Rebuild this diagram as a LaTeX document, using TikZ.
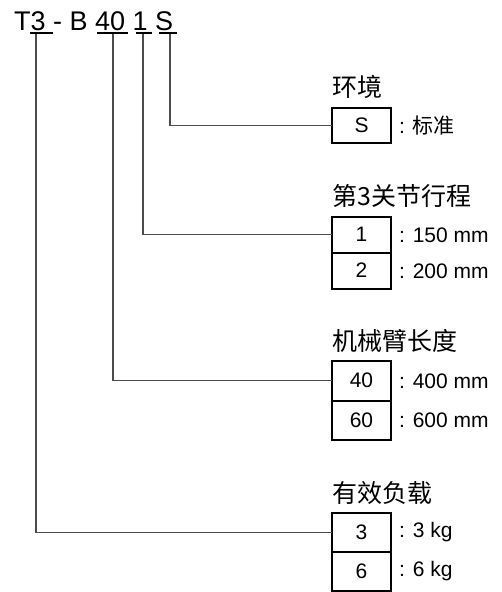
\documentclass[tikz,border=0pt]{standalone}
\usepackage{fontspec}
\setmainfont{Liberation Sans}
\newfontfamily\cjk{Noto Sans CJK SC}
\begin{document}
\begin{tikzpicture}[x=1pt,y=-1pt,
  optbox/.style={draw=black,line width=2pt,minimum width=59pt,inner sep=0pt,outer sep=0pt,anchor=north west,font=\fontsize{21}{21}\selectfont},
  grp/.style={anchor=west,inner sep=0pt,font=\cjk\fontsize{25}{25}\selectfont},
  val/.style={anchor=west,inner sep=0pt,font=\fontsize{21}{21}\selectfont},
  lead/.style={draw=black!70,line width=1.2pt},
  uline/.style={line width=2pt}]
\useasboundingbox (0,0) rectangle (502,592);
% title
\node[anchor=base west,inner sep=0pt,font=\fontsize{27}{27}\selectfont] (title) at (14,30) {T3 - B 40 1 S};
\draw[uline] (30,33) -- (53,33);
\draw[uline] (97,33) -- (128,33);
\draw[uline] (136,33) -- (152,33);
\draw[uline] (159,33) -- (177,33);
\coordinate (u3) at (36,34);
\coordinate (u40) at (113,34);
\coordinate (u1) at (143,34);
\coordinate (uS) at (170,34);
% environment
\node[grp] (genv) at (332,86.5) {环境};
\node[optbox,minimum height=35pt] (bS) at (332,108) {S};
\node[val] (vS) at (399,125.5) {: {\cjk 标准}};
% stroke
\node[grp] (gstroke) at (332,196) {第3关节行程};
\node[optbox,minimum height=36pt] (b1) at (332,216.5) {1};
\node[optbox,minimum height=36pt] (b2) at (332,252.5) {2};
\node[val] (v1) at (399,235) {: 150 mm};
\node[val] (v2) at (399,271) {: 200 mm};
% arm length
\node[grp] (garm) at (332,341) {机械臂长度};
\node[optbox,minimum height=39.5pt] (b40) at (332,361) {40};
\node[optbox,minimum height=39.5pt] (b60) at (332,400.5) {60};
\node[val] (v40) at (399,381) {: 400 mm};
\node[val] (v60) at (399,420.5) {: 600 mm};
% payload
\node[grp] (gpay) at (332,493) {有效负载};
\node[optbox,minimum height=39pt] (b3) at (332,513) {3};
\node[optbox,minimum height=39pt] (b6) at (332,552) {6};
\node[val] (v3) at (399,532.5) {: 3 kg};
\node[val] (v6) at (399,571.5) {: 6 kg};
% leaders
\draw[lead] (uS) |- (bS.west);
\draw[lead] (u1) |- (b1.west);
\draw[lead] (u40) |- (b40.west);
\draw[lead] (u3) |- (b3.west);
\end{tikzpicture}
\end{document}
